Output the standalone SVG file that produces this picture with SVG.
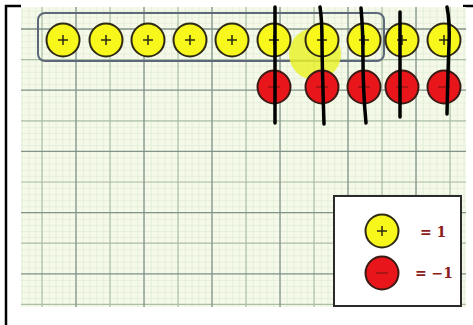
<svg xmlns="http://www.w3.org/2000/svg" width="473" height="325" viewBox="0 0 473 325">
<style>
.pos circle{fill:#f7f71c;stroke:#2e2a14;stroke-width:2}
.neg circle{fill:#e8161a;stroke:#3a1a14;stroke-width:2}
.pos path{stroke:#2a2a10;stroke-width:1.5;fill:none}
.neg path{stroke:#8a1814;stroke-width:1.3;fill:none}
.ink{stroke:#000;stroke-width:3.5;fill:none;stroke-linecap:round}
.lbl{font-family:"DejaVu Serif","Liberation Serif",serif;font-weight:bold;font-size:14px;fill:#8b1c1c}
</style>
<defs>
<pattern id="minor" patternUnits="userSpaceOnUse" x="42" y="29" width="6.8" height="6.12">
<path d="M0 0V6.12M0 0H6.8" stroke="#d8e5ca" stroke-width="1" fill="none"/>
</pattern>
</defs>
<rect width="473" height="325" fill="#fff"/>
<!-- frame -->
<path d="M6 325V6H21M463 6H473" stroke="#000" stroke-width="2.5" fill="none"/>
<!-- graph paper -->
<rect x="21" y="7" width="445" height="300" fill="#f4f9e9"/>
<rect x="21" y="7" width="445" height="300" fill="url(#minor)"/>
<path d="M42 7V307M110 7V307M178 7V307M246 7V307M314 7V307M382 7V307M450 7V307M21 59.6H466M21 120.8H466M21 182H466M21 243.2H466M21 304.4H466" stroke="#adbea6" stroke-width="1.2" fill="none"/>
<path d="M76 7V307M144 7V307M212 7V307M280 7V307M348 7V307M416 7V307M21 29H466M21 90.2H466M21 151.4H466M21 212.6H466M21 273.8H466" stroke="#82938a" stroke-width="1.3" fill="none"/>
<!-- grouping box -->
<rect id="group-box" x="38" y="13" width="346" height="48" rx="7" fill="none" stroke="#5d6878" stroke-width="2"/>
<!-- highlight blob -->
<circle cx="315" cy="54" r="26" fill="#eaf22e" opacity="0.85"/>
<!-- positive tiles -->
<g id="p1" class="pos"><circle cx="63" cy="40" r="16.5"/><path d="M58 40h10M63 35v10"/></g>
<g id="p2" class="pos"><circle cx="106" cy="40" r="16.5"/><path d="M101 40h10M106 35v10"/></g>
<g id="p3" class="pos"><circle cx="148" cy="40" r="16.5"/><path d="M143 40h10M148 35v10"/></g>
<g id="p4" class="pos"><circle cx="190" cy="40" r="16.5"/><path d="M185 40h10M190 35v10"/></g>
<g id="p5" class="pos"><circle cx="232" cy="40" r="16.5"/><path d="M227 40h10M232 35v10"/></g>
<g id="p6" class="pos"><circle cx="274" cy="40" r="16.5"/><path d="M269 40h10M274 35v10"/></g>
<g id="p7" class="pos"><circle cx="322" cy="40" r="16.5"/><path d="M317 40h10M322 35v10"/></g>
<g id="p8" class="pos"><circle cx="364" cy="40" r="16.5"/><path d="M359 40h10M364 35v10"/></g>
<g id="p9" class="pos"><circle cx="402" cy="40" r="16.5"/><path d="M397 40h10M402 35v10"/></g>
<g id="p10" class="pos"><circle cx="444" cy="40" r="16.5"/><path d="M439 40h10M444 35v10"/></g>
<!-- negative tiles -->
<g id="n1" class="neg"><circle cx="274" cy="87" r="16.5"/><path d="M268 87h12"/></g>
<g id="n2" class="neg"><circle cx="322" cy="87" r="16.5"/><path d="M316 87h12"/></g>
<g id="n3" class="neg"><circle cx="364" cy="87" r="16.5"/><path d="M358 87h12"/></g>
<g id="n4" class="neg"><circle cx="402" cy="87" r="16.5"/><path d="M396 87h12"/></g>
<g id="n5" class="neg"><circle cx="444" cy="87" r="16.5"/><path d="M438 87h12"/></g>
<!-- cross-out strokes -->
<g id="connectors" class="ink">
<path d="M275 7L275 123"/>
<path d="M320 7Q322 20 322 40T324 124"/>
<path d="M361 8Q363 30 363 60T366 123"/>
<path d="M400 12L400 117"/>
<path d="M447 7Q450 22 449 45T447 114"/>
</g>
<!-- legend -->
<g id="legend">
<rect x="334" y="196" width="127" height="110" fill="#fff" stroke="#2a2a2a" stroke-width="2"/>
<g id="legend-pos" class="pos"><circle cx="382" cy="231" r="16.5"/><path d="M377 231h10M382 226v10"/></g>
<g id="legend-neg" class="neg"><circle cx="382" cy="273" r="16.5"/><path d="M376 273h12"/></g>
<text class="lbl" x="420" y="237">= 1</text>
<text class="lbl" x="415" y="278">= −1</text>
</g>
</svg>
